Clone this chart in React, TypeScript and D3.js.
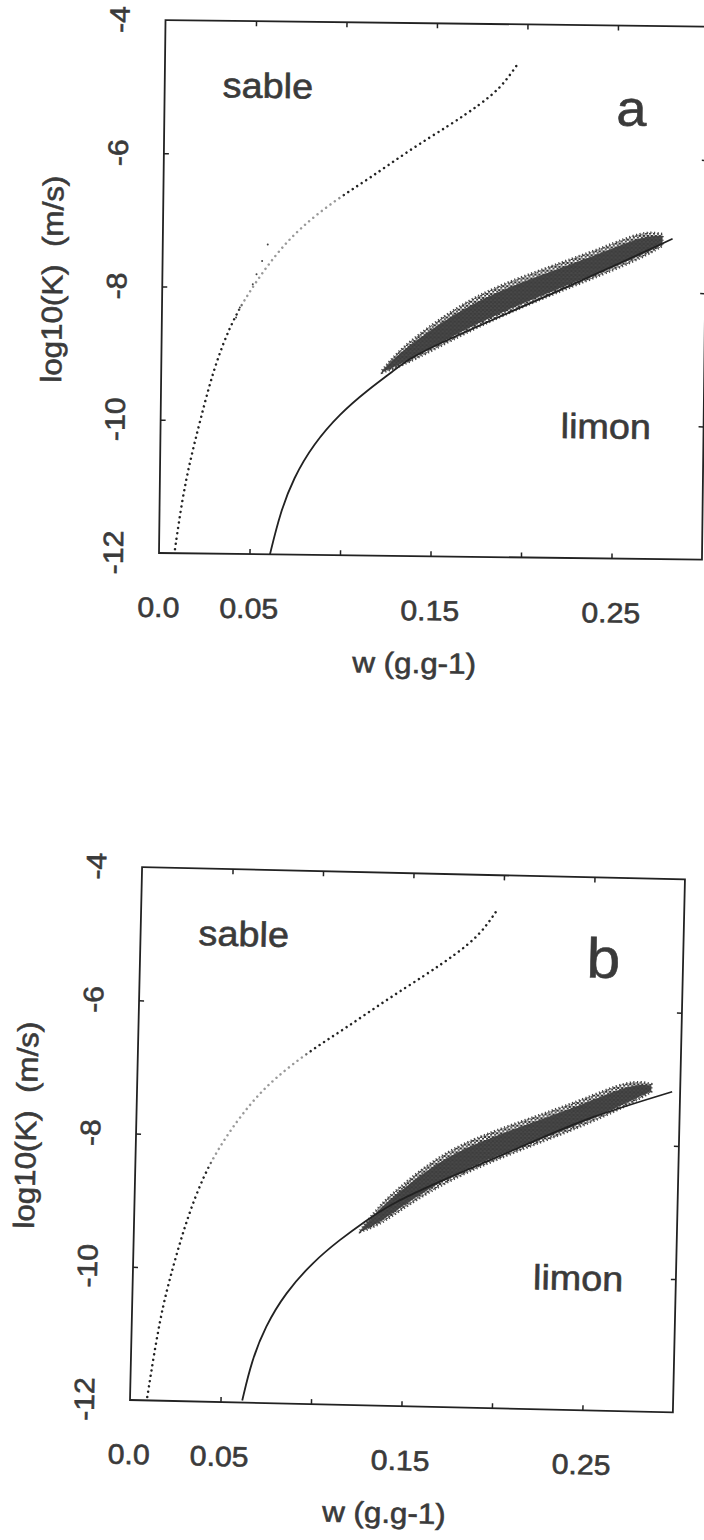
import React, { useEffect, useRef } from "react";
import * as d3 from "d3";

// shared axis ticks / labels
const xTickValues = [0.05, 0.1, 0.15, 0.2, 0.25];
const xLabelValues = [0, 0.05, 0.15, 0.25];
const xLabelTexts = ["0.0", "0.05", "0.15", "0.25"];
const yTickValues = [-6, -8, -10];
const yLabelValues = [-4, -6, -8, -10, -12];
const yLabelTexts = ["-4", "-6", "-8", "-10", "-12"];

// panel a : sable (dotted model curve)
const sableAw = [0.0088, 0.0124, 0.0166, 0.0219, 0.0288, 0.0378, 0.0487, 0.0623, 0.0759, 0.095, 0.1143, 0.136, 0.158, 0.1744, 0.1853, 0.1917, 0.195];
const sableAk = [-11.94, -11.2, -10.6, -10.0, -9.24, -8.56, -8.03, -7.5, -7.09, -6.67, -6.33, -5.9, -5.52, -5.21, -4.96, -4.72, -4.59];
// stray simulated points near the sable curve
const strayAw = [0.058, 0.055, 0.052, 0.05, 0.043, 0.041];
const strayAk = [-7.35, -7.6, -7.8, -7.95, -8.3, -8.45];
// panel a : limon (solid model curve)
const limonAw = [0.0613, 0.0666, 0.0738, 0.0845, 0.0992, 0.114, 0.128, 0.1376, 0.16, 0.19, 0.22, 0.25, 0.2816];
const limonAk = [-12.0, -11.38, -10.85, -10.34, -9.87, -9.52, -9.23, -9.02, -8.72, -8.35, -7.98, -7.6, -7.19];
// panel a : limon simulated cloud (upper / lower envelope)
const cloudAw = [0.122, 0.13, 0.145, 0.174, 0.209, 0.245, 0.265, 0.276];
const cloudAhi = [-9.22, -8.95, -8.6, -8.05, -7.68, -7.32, -7.08, -7.12];
const cloudAlo = [-9.25, -9.18, -8.98, -8.55, -8.12, -7.72, -7.48, -7.3];

// panel b : sable
const sableBw = [0.0095, 0.0155, 0.022, 0.029, 0.0378, 0.0487, 0.0623, 0.0759, 0.095, 0.1143, 0.136, 0.158, 0.1744, 0.1875, 0.196];
const sableBk = [-11.95, -10.74, -9.99, -9.28, -8.6, -8.05, -7.52, -7.12, -6.7, -6.35, -5.92, -5.52, -5.2, -4.9, -4.55];
// panel b : limon
const limonBw = [0.062, 0.0666, 0.0738, 0.0845, 0.0992, 0.114, 0.128, 0.14, 0.16, 0.19, 0.22, 0.25, 0.2956];
const limonBk = [-11.97, -11.38, -10.85, -10.34, -9.87, -9.52, -9.23, -9.0, -8.72, -8.35, -7.98, -7.6, -7.19];
const cloudBw = [0.125, 0.135, 0.15, 0.174, 0.209, 0.245, 0.272, 0.284];
const cloudBhi = [-9.38, -9.0, -8.62, -8.1, -7.72, -7.36, -7.02, -7.08];
const cloudBlo = [-9.4, -9.3, -9.0, -8.58, -8.15, -7.76, -7.4, -7.2];

// grey stretch of the sable dots (w range)
const sableGreyA = [0.042, 0.1];
const sableGreyB = [0.04, 0.095];

const plotW = 543;
const plotH = 533;
const ink = "#222";
const textInk = "#3a3a3a";
const font = "'Liberation Sans', Arial, Helvetica, sans-serif";
const stretch = 1.08;

const panels = [
  {
    id: "a", left: 159, bottom: 553, angle: 0.7,
    sableW: sableAw, sableK: sableAk, strayW: strayAw, strayK: strayAk,
    limonW: limonAw, limonK: limonAk,
    cloudW: cloudAw, cloudHi: cloudAhi, cloudLo: cloudAlo, grey: sableGreyA,
    letterW: 0.258, letterSize: 50,
  },
  {
    id: "b", left: 130, bottom: 1400, angle: 1.3,
    sableW: sableBw, sableK: sableBk, strayW: [], strayK: [],
    limonW: limonBw, limonK: limonBk,
    cloudW: cloudBw, cloudHi: cloudBhi, cloudLo: cloudBlo, grey: sableGreyB,
    letterW: 0.256, letterSize: 56,
  },
];

const App = () => {
  const ref = useRef<SVGSVGElement>(null);

  useEffect(() => {
    const svg = d3.select(ref.current);
    svg.selectAll("*").remove();
    svg.append("rect").attr("width", 704).attr("height", 1540).attr("fill", "#fff");

    // speckle texture for the simulated clouds
    const pat = svg
      .append("defs")
      .append("pattern")
      .attr("id", "speck")
      .attr("patternUnits", "userSpaceOnUse")
      .attr("width", 4)
      .attr("height", 4);
    pat.append("rect").attr("x", 0).attr("y", 0).attr("width", 2).attr("height", 2).attr("fill", "#333");
    pat.append("rect").attr("x", 2).attr("y", 2).attr("width", 2).attr("height", 1.6).attr("fill", "#3a3a3a");
    pat.append("rect").attr("x", 2.5).attr("y", 0.3).attr("width", 1.2).attr("height", 1.2).attr("fill", "#555");

    panels.forEach((p) => drawPanel(svg, p));
  }, []);

  const drawPanel = (svg: any, p: any) => {
    const x = d3.scaleLinear().domain([0, 0.3]).range([0, plotW]);
    const y = d3.scaleLinear().domain([-12, -4]).range([0, -plotH]);

    const g = svg
      .append("g")
      .attr("transform", `translate(${p.left},${p.bottom}) rotate(${p.angle})`);

    // stretched, slightly heavy text (scanned print)
    const label = (tx: number, ty: number, rot: number, txt: string, size: number) =>
      g
        .append("text")
        .attr("transform", `translate(${tx},${ty}) rotate(${rot}) scale(${stretch},1)`)
        .attr("text-anchor", "middle")
        .attr("font-family", font)
        .attr("font-size", size)
        .attr("fill", textInk)
        .attr("stroke", textInk)
        .attr("stroke-width", 0.6)
        .style("white-space", "pre")
        .text(txt);

    // gradient used to grey out a part of the dotted curve
    const gid = `sableGrad_${p.id}`;
    const grad = svg
      .append("defs")
      .append("linearGradient")
      .attr("id", gid)
      .attr("gradientUnits", "userSpaceOnUse")
      .attr("x1", 0)
      .attr("x2", plotW)
      .attr("y1", 0)
      .attr("y2", 0);
    const g0 = x(p.grey[0]) / plotW;
    const g1 = x(p.grey[1]) / plotW;
    [
      [0, ink], [g0, ink], [g0 + 0.01, "#9a9a9a"], [g1 - 0.01, "#9a9a9a"], [g1, ink], [1, ink],
    ].forEach(([o, c]) => grad.append("stop").attr("offset", o).attr("stop-color", c));

    // simulated cloud : speckled envelope + darker core
    const area = d3
      .area<number>()
      .x((d) => x(d))
      .y0((d, i) => y(p.cloudLo[i]))
      .y1((d, i) => y(p.cloudHi[i]))
      .curve(d3.curveBasis);
    const core = d3
      .area<number>()
      .x((d) => x(d))
      .y0((d, i) => y(p.cloudLo[i] + 0.12 * (p.cloudHi[i] - p.cloudLo[i])))
      .y1((d, i) => y(p.cloudLo[i] + 0.82 * (p.cloudHi[i] - p.cloudLo[i])))
      .curve(d3.curveBasis);
    g.append("path")
      .datum(p.cloudW)
      .attr("d", area)
      .attr("fill", "url(#speck)")
      .attr("stroke", "#444")
      .attr("stroke-width", 2.5)
      .attr("stroke-dasharray", "1.2 2.4");
    g.append("path")
      .datum(p.cloudW)
      .attr("d", core)
      .attr("fill", "#3e3e3e")
      .attr("opacity", 0.95);

    const line = d3.line<number>().x((d) => x(d)).curve(d3.curveBasis);

    // limon : solid
    g.append("path")
      .datum(p.limonW)
      .attr("d", line.y((d, i) => y(p.limonK[i])))
      .attr("fill", "none")
      .attr("stroke", ink)
      .attr("stroke-width", 1.8);

    // sable : dotted
    g.append("path")
      .datum(p.sableW)
      .attr("d", line.y((d, i) => y(p.sableK[i])))
      .attr("fill", "none")
      .attr("stroke", `url(#${gid})`)
      .attr("stroke-width", 2.5)
      .attr("stroke-linecap", "round")
      .attr("stroke-dasharray", "0.01 5.4");

    g.selectAll(".stray")
      .data(p.strayW)
      .enter()
      .append("circle")
      .attr("cx", (d: number) => x(d))
      .attr("cy", (d: number, i: number) => y(p.strayK[i]))
      .attr("r", 1)
      .attr("fill", "#444");

    // box
    g.append("rect")
      .attr("x", 0)
      .attr("y", -plotH)
      .attr("width", plotW)
      .attr("height", plotH)
      .attr("fill", "none")
      .attr("stroke", ink)
      .attr("stroke-width", 1.8);

    // inward ticks on the four sides
    const tickSize = 5;
    const axes = [
      { ax: d3.axisBottom(x).tickValues(xTickValues), tr: `translate(0,0)` },
      { ax: d3.axisTop(x).tickValues(xTickValues), tr: `translate(0,${-plotH})` },
      { ax: d3.axisLeft(y).tickValues(yTickValues), tr: `translate(0,0)` },
      { ax: d3.axisRight(y).tickValues(yTickValues), tr: `translate(${plotW},0)` },
    ];
    axes.forEach(({ ax, tr }) => {
      const a = g.append("g").attr("transform", tr).call(ax.tickSize(-tickSize).tickFormat(() => ""));
      a.select(".domain").remove();
      a.selectAll("line").attr("stroke", ink).attr("stroke-width", 1.5);
    });

    // tick labels
    xLabelValues.forEach((v, i) => label(x(v), 64, 0, xLabelTexts[i], 28));
    yLabelValues.forEach((v, i) => label(-36, y(v), -90, yLabelTexts[i], 28));

    // axis titles
    label(plotW / 2 - 15, 117, 0, "w (g.g-1)", 29);
    label(-100, -plotH / 2 - 6, -90, "log10(K)  (m/s)", 29);

    // in-plot annotations
    label(x(0.057), y(-5.15), 0, "sable", 35);
    label(x(0.246), y(-10.2), 0, "limon", 35);
    label(x(p.letterW), y(-5.5), 0, p.id, p.letterSize);
  };

  return (
    <svg
      ref={ref}
      width={704}
      height={1540}
      style={{ position: "absolute", left: 0, top: 0, display: "block" }}
    />
  );
};

export default App;
